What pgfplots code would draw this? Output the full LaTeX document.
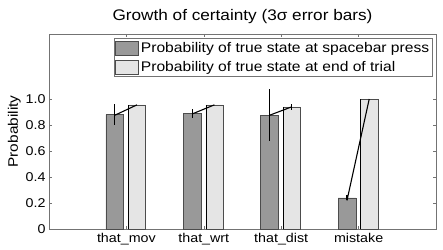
\documentclass[border=0pt]{standalone}
\usepackage{fontspec}
\setmainfont{Liberation Sans}[FakeStretch=1.12]
\usepackage{pgfplots}
\pgfplotsset{compat=1.18}
\definecolor{darkbar}{gray}{0.6}
\definecolor{lightbar}{gray}{0.9}
\definecolor{edge}{gray}{0.3}
\definecolor{axgray}{gray}{0.45}
\begin{document}
\begin{tikzpicture}[x=1bp,y=1bp]
\path[use as bounding box] (0,0) rectangle (443,249);
\begin{axis}[
  at={(49bp,20bp)}, anchor=south west,
  width=387bp, height=195bp, scale only axis,
  xmin=0, xmax=5, ymin=0, ymax=1.5,
  xtick={1,2,3,4},
  xticklabels={that\_mov,that\_wrt,that\_dist,mistake},
  ytick={0,0.2,0.4,0.6,0.8,1.0},
  yticklabels={0,0.2,0.4,0.6,0.8,1.0},
  tick align=inside,
  major tick length=3bp,
  tick style={axgray, line width=0.5pt},
  axis line style={axgray, line width=0.8pt},
  ticklabel style={font=\fontsize{12.8}{14}\selectfont, black},
  xticklabel style={yshift=-1bp},
  yticklabel style={xshift=0bp},
  ylabel={Probability},
  ylabel style={font=\fontsize{13.8}{15}\selectfont, yshift=-2bp},
  title={Growth of certainty (3σ error bars)},
  title style={font=\fontsize{15.4}{17}\selectfont, yshift=1bp},
  legend style={at={(1,1)}, anchor=north east, xshift=-3.5bp, yshift=-4.3bp,
    font=\fontsize{14}{15}\selectfont, draw=axgray, line width=0.6pt,
    inner xsep=1bp, inner ysep=2bp, row sep=3bp, cells={anchor=west}},
  legend image code/.code={\draw[#1, line width=0.6pt] (0bp,-7bp) rectangle (23bp,7bp);},
  legend cell align=left,
]
\addplot[ybar, bar width=0.23, fill=darkbar, draw=edge, line width=0.6pt]
  coordinates {(0.85,0.88) (1.85,0.89) (2.85,0.875) (3.85,0.24)};
\addlegendentry{Probability of true state at spacebar press}
\addplot[ybar, bar width=0.222, fill=lightbar, draw=edge, line width=0.6pt]
  coordinates {(1.137,0.955) (2.137,0.955) (3.137,0.94) (4.137,1.0)};
\addlegendentry{Probability of true state at end of trial}
% black edge line at left of light bars
\addplot[forget plot, ycomb, black, line width=0.6pt, no marks]
  coordinates {(1.027,0.955) (2.027,0.955) (3.027,0.94) (4.027,1.0)};
% error bars on dark bars
\addplot[forget plot, draw=none, mark=none,
  error bars/.cd, y dir=both, y explicit, error mark=none,
  error bar style={draw=black, line width=1.2pt}]
  coordinates {(0.85,0.883) +- (0,0.08) (1.85,0.89) +- (0,0.036) (2.85,0.877) +- (0,0.202) (3.85,0.24) +- (0,0.02)};
% error bar on light bar (that_dist)
\addplot[forget plot, draw=none, mark=none,
  error bars/.cd, y dir=both, y explicit, error mark=none,
  error bar style={draw=black, line width=1.2pt}]
  coordinates {(3.137,0.938) +- (0,0.02)};
% connecting lines
\addplot[forget plot, black, line width=1.1pt, no marks] coordinates {(0.85,0.875) (1.137,0.955)};
\addplot[forget plot, black, line width=1.1pt, no marks] coordinates {(1.85,0.885) (2.137,0.955)};
\addplot[forget plot, black, line width=1.1pt, no marks] coordinates {(2.85,0.875) (3.137,0.94)};
\addplot[forget plot, black, line width=1.1pt, no marks] coordinates {(3.85,0.22) (4.137,1.0)};
\end{axis}
\end{tikzpicture}
\end{document}
